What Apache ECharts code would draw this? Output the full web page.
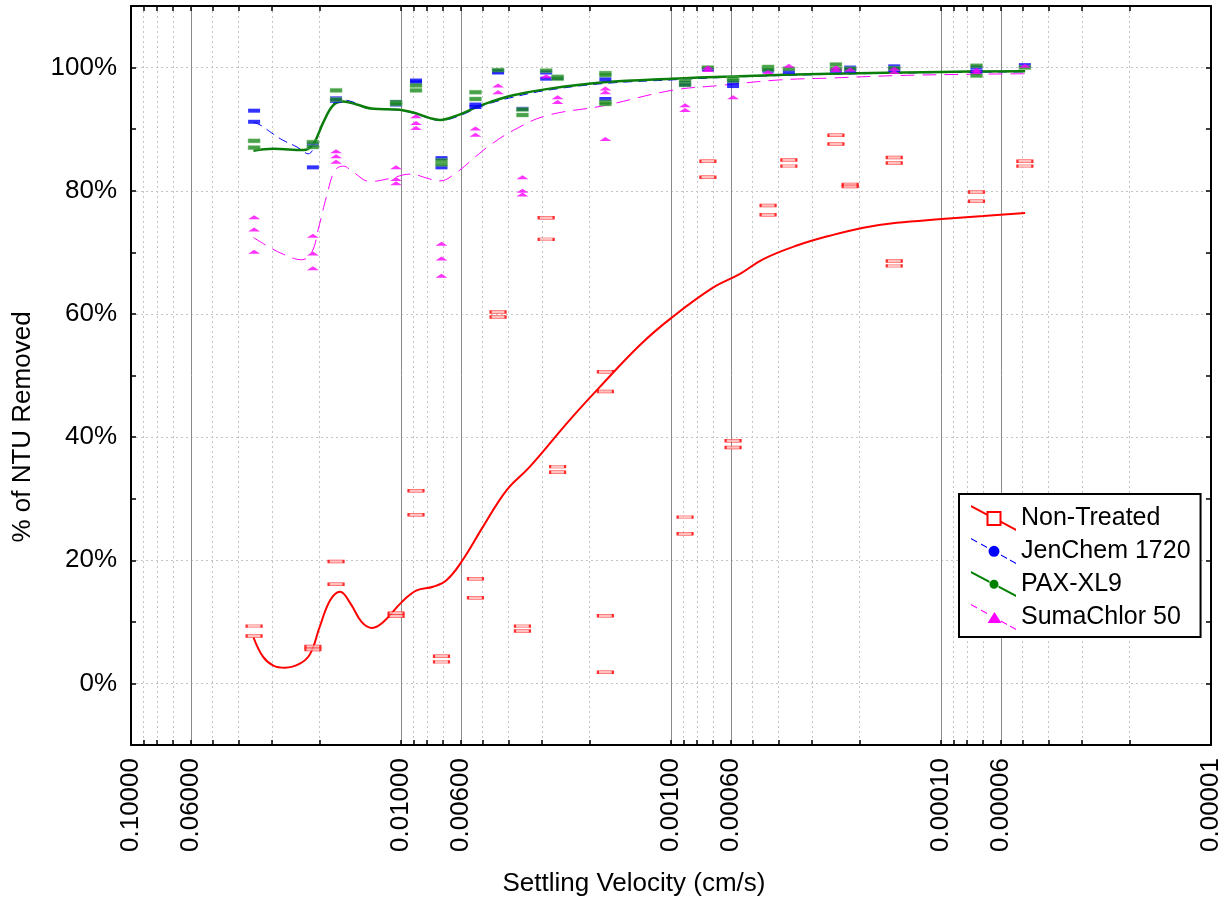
<!DOCTYPE html>
<html><head><meta charset="utf-8">
<script src="https://cdn.jsdelivr.net/npm/echarts@6/dist/echarts.min.js"></script>
<style>html,body{margin:0;padding:0;background:#fff}#c{width:1231px;height:905px}</style>
</head><body><div id="c"></div>
<script>
// ---------- DATA ----------
const xLabelTicks = [0.1, 0.06, 0.01, 0.006, 0.001, 0.0006, 0.0001, 0.00006, 0.00001];
const xMajorGrid = [0.06, 0.01, 0.006, 0.001, 0.0006, 0.0001, 0.00006];
const xMinorGrid = [0.09,0.08,0.07,0.05,0.04,0.03,0.02,
  0.009,0.008,0.007,0.005,0.004,0.003,0.002,
  0.0009,0.0008,0.0007,0.0005,0.0004,0.0003,0.0002,
  0.00009,0.00008,0.00007,0.00005,0.00004,0.00003,0.00002];
const yLabelTicks = [0, 20, 40, 60, 80, 100];
const yTicks = [0, 10, 20, 30, 40, 50, 60, 70, 80, 90, 100];

const seriesNames = ['Non-Treated', 'JenChem 1720', 'PAX-XL9', 'SumaChlor 50'];

// settling velocity (cm/s) of each observation column
const settlingVelocity = [0.0350,0.0212,0.0174,0.01043,0.0088,0.00708,0.0053,0.00437,0.00355,0.0029,0.00263,
  0.00175,0.000887,0.00073,0.000589,0.000437,0.000366,0.000245,0.000217,0.000149,0.0000739,0.0000489];

// % removed observations per column
const nonTreatedObs = [[9.3,7.7],[6.0,5.5],[19.8,16.1],[11.4,10.9],[31.3,27.4],[4.4,3.5],[17.0,13.9],[60.3,59.5],
  [9.3,8.5],[75.6,72.1],[35.2,34.3],[50.6,47.4,11.0,1.8],[27.0,24.3],[84.8,82.2],[39.4,38.3],[77.6,76.1],
  [85.0,84.0],[89.0,87.6],[81.0,80.7],[85.4,84.5,68.6,67.8],[79.8,78.3],[84.8,84.0]];
const jenChemObs = [[93.0,91.2],[87.5,83.8],[95.0,94.6],[94.4,94.0],[97.9,97.6],[85.3,83.8],[94.0,93.6],[99.4,99.2],
  [93.3],[99.2,98.2],[98.3],[98.1,94.9],[97.5,97.2],[99.7],[97.6,97.0],[99.5],[99.3],[99.5],[100.0,99.5],
  [100.2,99.6],[100.0,99.3],[100.4]];
const paxObs = [[88.1,87.0],[87.9,87.1],[96.3,94.8],[94.4,94.1],[97.1,96.3],[84.9,84.3],[96.0,94.9],[99.6],
  [93.2,92.3],[99.5],[98.5,98.2],[99.1,98.8,94.4,94.1],[97.8,97.2],[100.0],[98.3,97.9],[100.1,99.7],[99.8],
  [100.5,99.8],[99.8],[99.9],[100.3,98.7],[100.0]];
const sumaObs = [[75.7,73.7,70.1],[72.7,69.8,67.4],[86.4,85.6,84.7],[83.8,81.9,81.2],[92.1,91.0,90.2],[71.4,69.0,66.2],
  [90.1,89.1],[97.1,96.0],[82.2,80.0,79.4],[98.6],[95.2,94.4],[96.6,96.0,88.4],[93.9,93.1],[100.0,99.6],[95.2],
  [99.3],[100.3],[100.0,99.6],[99.7],[99.8,99.3],[99.6,99.3],[100.3]];

// fitted curves [velocity, %]
const nonTreatedFit = [[0.0352,7.5],[0.0324,4.3],[0.0297,2.9],[0.0269,2.55],[0.0237,3.2],[0.0217,4.8],[0.0200,9.2],
  [0.0183,13.5],[0.0168,14.9],[0.0154,13.0],[0.0140,10.0],[0.0128,9.0],[0.0116,10.0],[0.00994,13.2],[0.00875,15.1],
  [0.00760,15.7],[0.00677,16.8],[0.00596,19.8],[0.00496,25.5],[0.00406,31.4],[0.00333,35.2],[0.00237,42.8],
  [0.00183,48.2],[0.00130,55.0],[0.000994,59.4],[0.000697,64.3],[0.000555,66.5],[0.000455,68.9],[0.000342,71.1],
  [0.000258,72.7],[0.000194,74.0],[0.000146,74.8],[0.0000994,75.4],[0.0000697,75.9],[0.0000488,76.4]];
const jenChemFit = [[0.0352,91.1],[0.0333,90.7],[0.0297,89.2],[0.02735,88.2],[0.02427,87.1],[0.02204,86.0],
  [0.02052,88.4],[0.01884,92.2],[0.01682,94.8],[0.01502,94.4],[0.01340,93.4],[0.01037,93.1],[0.00901,92.6],
  [0.00781,91.7],[0.00717,91.4],[0.00622,92.0],[0.00524,93.4],[0.00468,94.2],[0.00384,95.2],[0.00289,96.3],
  [0.00178,97.4],[0.000994,98.0],[0.000555,98.5],[0.000258,98.9],[0.0000994,99.2],[0.0000488,99.3]];
const paxFit = [[0.0352,86.5],[0.0297,86.8],[0.0230,86.6],[0.02113,87.6],[0.01940,91.1],[0.01781,93.9],[0.01636,94.5],
  [0.01459,94.0],[0.01267,93.3],[0.01037,93.2],[0.00901,92.7],[0.00781,91.8],[0.00717,91.5],[0.00622,92.2],
  [0.00524,93.6],[0.00468,94.4],[0.00384,95.5],[0.00289,96.5],[0.00178,97.6],[0.000994,98.2],[0.000555,98.6],
  [0.000258,99.0],[0.0000994,99.3],[0.0000488,99.4]];
const sumaFit = [[0.0352,72.4],[0.03144,71.1],[0.02729,69.7],[0.02332,68.8],[0.02141,70.0],[0.02024,73.8],[0.01884,79.2],
  [0.01756,83.3],[0.01636,84.0],[0.01502,83.0],[0.01302,81.5],[0.01098,82.0],[0.00926,82.7],[0.00781,81.9],
  [0.00717,81.6],[0.00622,83.0],[0.00524,85.7],[0.00468,87.4],[0.00384,89.8],[0.00289,92.2],[0.00178,93.8],
  [0.000994,96.3],[0.000658,97.1],[0.000395,98.0],[0.000258,98.3],[0.000146,98.7],[0.0000829,98.9],[0.0000488,99.0]];

// ---------- BUILD ----------
const FONT = '"Liberation Sans", Arial, Helvetica, sans-serif';
const toLog = v => +Math.log10(v).toFixed(10);
const obsPoints = groups => {
  const out = [];
  groups.forEach((g, i) => g.forEach(y => out.push([toLog(settlingVelocity[i]), y])));
  return out;
};
const fitPoints = arr => arr.map(p => [toLog(p[0]), p[1]]);

// legend icons (45 x 26 box, diagonal line + marker)
const W = 45, H = 26;
function lineSegs(segs, h) {
  const yt = x => (H - h) * x / W;
  return segs.map(([a, b]) =>
    `M${a} ${yt(a).toFixed(2)} L${b} ${yt(b).toFixed(2)} L${b} ${(yt(b)+h).toFixed(2)} L${a} ${(yt(a)+h).toFixed(2)} Z`).join(' ');
}
function circ(cx, cy, r) {
  return `M${cx-r} ${cy} A${r} ${r} 0 1 1 ${cx+r} ${cy} A${r} ${r} 0 1 1 ${cx-r} ${cy} Z`;
}
const iconNT = 'path://' + lineSegs([[0,15.5],[30.5,45]], 2.3) +
  ' M15.5 6 L30.5 6 L30.5 21 L15.5 21 Z M17.5 8 L17.5 19 L28.5 19 L28.5 8 Z';
const iconJC = 'path://' + lineSegs([[0,6],[10,16],[30,36],[39,45]], 1.2) + ' ' + circ(23, 13.3, 5.5);
const iconPAX = 'path://' + lineSegs([[0,18.5],[27.5,45]], 2.3) + ' ' + circ(23, 13.3, 4.5);
const iconSC = 'path://' + lineSegs([[0,6],[10,16],[30,36],[39,45]], 1.2) + ' M23.5 8 L30.5 19 L16.5 19 Z';

const colors = ['#ff0000', '#0000ff', '#008000', '#ff00ff'];

const xBase = { type: 'value', min: -5, max: -1, inverse: true, gridIndex: 0 };
const yBase = { type: 'value', min: -10, max: 110, gridIndex: 0 };
const frameLine = { show: true, onZero: false, lineStyle: { color: '#000', width: 2 } };
const frameTick = { show: true, inside: true, length: 5, lineStyle: { color: '#000', width: 1.5 } };

const option = {
  animation: false,
  backgroundColor: '#ffffff',
  textStyle: { fontFamily: FONT },
  grid: { left: 131, top: 6, width: 1080, height: 739, containLabel: false },
  xAxis: [
    Object.assign({}, xBase, {
      position: 'bottom',
      axisLine: frameLine,
      axisTick: Object.assign({}, frameTick, { customValues: xLabelTicks.concat(xMinorGrid).map(toLog) }),
      axisLabel: { show: true, rotate: 90, margin: 13, fontSize: 26, color: '#000', fontFamily: FONT,
        customValues: xLabelTicks.map(toLog),
        formatter: v => Math.pow(10, v).toFixed(5) },
      splitLine: { show: false }
    }),
    Object.assign({}, xBase, {
      position: 'top',
      axisLine: frameLine,
      axisTick: Object.assign({}, frameTick, { customValues: xLabelTicks.concat(xMinorGrid).map(toLog) }),
      axisLabel: { show: false },
      splitLine: { show: false }
    }),
    Object.assign({}, xBase, {
      position: 'bottom',
      axisLine: { show: false, onZero: false },
      axisTick: { show: false, customValues: xMinorGrid.map(toLog) },
      axisLabel: { show: false },
      splitLine: { show: true, lineStyle: { color: '#c4c4c4', width: 1, type: [2, 3] } }
    }),
    Object.assign({}, xBase, {
      position: 'bottom',
      axisLine: { show: false, onZero: false },
      axisTick: { show: false, customValues: xMajorGrid.map(toLog) },
      axisLabel: { show: false },
      splitLine: { show: true, lineStyle: { color: '#8a8a8a', width: 1, type: 'solid' } }
    })
  ],
  yAxis: [
    Object.assign({}, yBase, {
      position: 'left',
      axisLine: frameLine,
      axisTick: Object.assign({}, frameTick, { customValues: yTicks }),
      axisLabel: { show: true, margin: 14, fontSize: 26, color: '#000', fontFamily: FONT,
        customValues: yLabelTicks, formatter: v => v + '%' },
      splitLine: { show: false }
    }),
    Object.assign({}, yBase, {
      position: 'right',
      axisLine: frameLine,
      axisTick: Object.assign({}, frameTick, { customValues: yTicks }),
      axisLabel: { show: false },
      splitLine: { show: false }
    }),
    Object.assign({}, yBase, {
      position: 'left',
      axisLine: { show: false, onZero: false },
      axisTick: { show: false, customValues: yLabelTicks },
      axisLabel: { show: false },
      splitLine: { show: true, lineStyle: { color: '#c4c4c4', width: 1, type: [2, 3] } }
    })
  ],
  legend: {
    orient: 'vertical', left: 959, top: 494,
    itemWidth: W, itemHeight: H, itemGap: 7, selectedMode: false,
    padding: [11, 10, 7, 12],
    borderColor: '#000', borderWidth: 2, backgroundColor: '#fff',
    textStyle: { fontSize: 25, color: '#000', fontFamily: FONT },
    itemStyle: { borderWidth: 0 },
    data: [
      { name: seriesNames[0], icon: iconNT, itemStyle: { color: colors[0], borderWidth: 0, opacity: 1 } },
      { name: seriesNames[1], icon: iconJC, itemStyle: { color: colors[1], borderWidth: 0, opacity: 1 } },
      { name: seriesNames[2], icon: iconPAX, itemStyle: { color: colors[2], borderWidth: 0, opacity: 1 } },
      { name: seriesNames[3], icon: iconSC, itemStyle: { color: colors[3], borderWidth: 0, opacity: 1 } }
    ]
  },
  graphic: [
    { type: 'text', silent: true, style: { text: 'Settling Velocity (cm/s)', x: 634, y: 884,
        textAlign: 'center', textVerticalAlign: 'middle', font: '26px ' + FONT, fill: '#000' } },
    { type: 'text', silent: true, rotation: Math.PI / 2, x: 23, y: 427,
      style: { text: '% of NTU Removed', x: 0, y: 0,
        textAlign: 'center', textVerticalAlign: 'middle', font: '26px ' + FONT, fill: '#000' } }
  ],
  series: [
    { name: seriesNames[0], type: 'line', data: fitPoints(nonTreatedFit), smooth: 0.4, showSymbol: false, symbol: 'none',
      lineStyle: { color: colors[0], width: 2 }, itemStyle: { color: colors[0] }, z: 3 },
    { name: seriesNames[1], type: 'line', data: fitPoints(jenChemFit), smooth: 0.4, showSymbol: false, symbol: 'none',
      lineStyle: { color: colors[1], width: 1, type: [9, 6] }, itemStyle: { color: colors[1] }, z: 3 },
    { name: seriesNames[2], type: 'line', data: fitPoints(paxFit), smooth: 0.4, showSymbol: false, symbol: 'none',
      lineStyle: { color: '#0a7d0a', width: 2.5 }, itemStyle: { color: colors[2] }, z: 4 },
    { name: seriesNames[3], type: 'line', data: fitPoints(sumaFit), smooth: 0.4, showSymbol: false, symbol: 'none',
      lineStyle: { color: colors[3], width: 1, type: [14, 8] }, itemStyle: { color: colors[3] }, z: 3 },
    { name: seriesNames[0], type: 'scatter', data: obsPoints(nonTreatedObs), symbol: 'rect', symbolSize: [15, 3],
      itemStyle: { color: '#ffb0b0', borderColor: '#ff0000', borderWidth: 1 }, z: 5 },
    { name: seriesNames[1], type: 'scatter', data: obsPoints(jenChemObs), symbol: 'rect', symbolSize: [12, 4],
      itemStyle: { color: '#0000ff' }, z: 5 },
    { name: seriesNames[2], type: 'scatter', data: obsPoints(paxObs), symbol: 'rect', symbolSize: [12, 4],
      itemStyle: { color: '#1a8a1a', borderColor: '#7fc07f', borderWidth: 0.5 }, z: 5 },
    { name: seriesNames[3], type: 'scatter', data: obsPoints(sumaObs), symbol: 'triangle', symbolSize: [12, 4],
      itemStyle: { color: '#ff00ff' }, z: 5 }
  ]
};

const chart = echarts.init(document.getElementById('c'), null, { renderer: 'canvas' });
chart.setOption(option);
</script>
</body></html>
